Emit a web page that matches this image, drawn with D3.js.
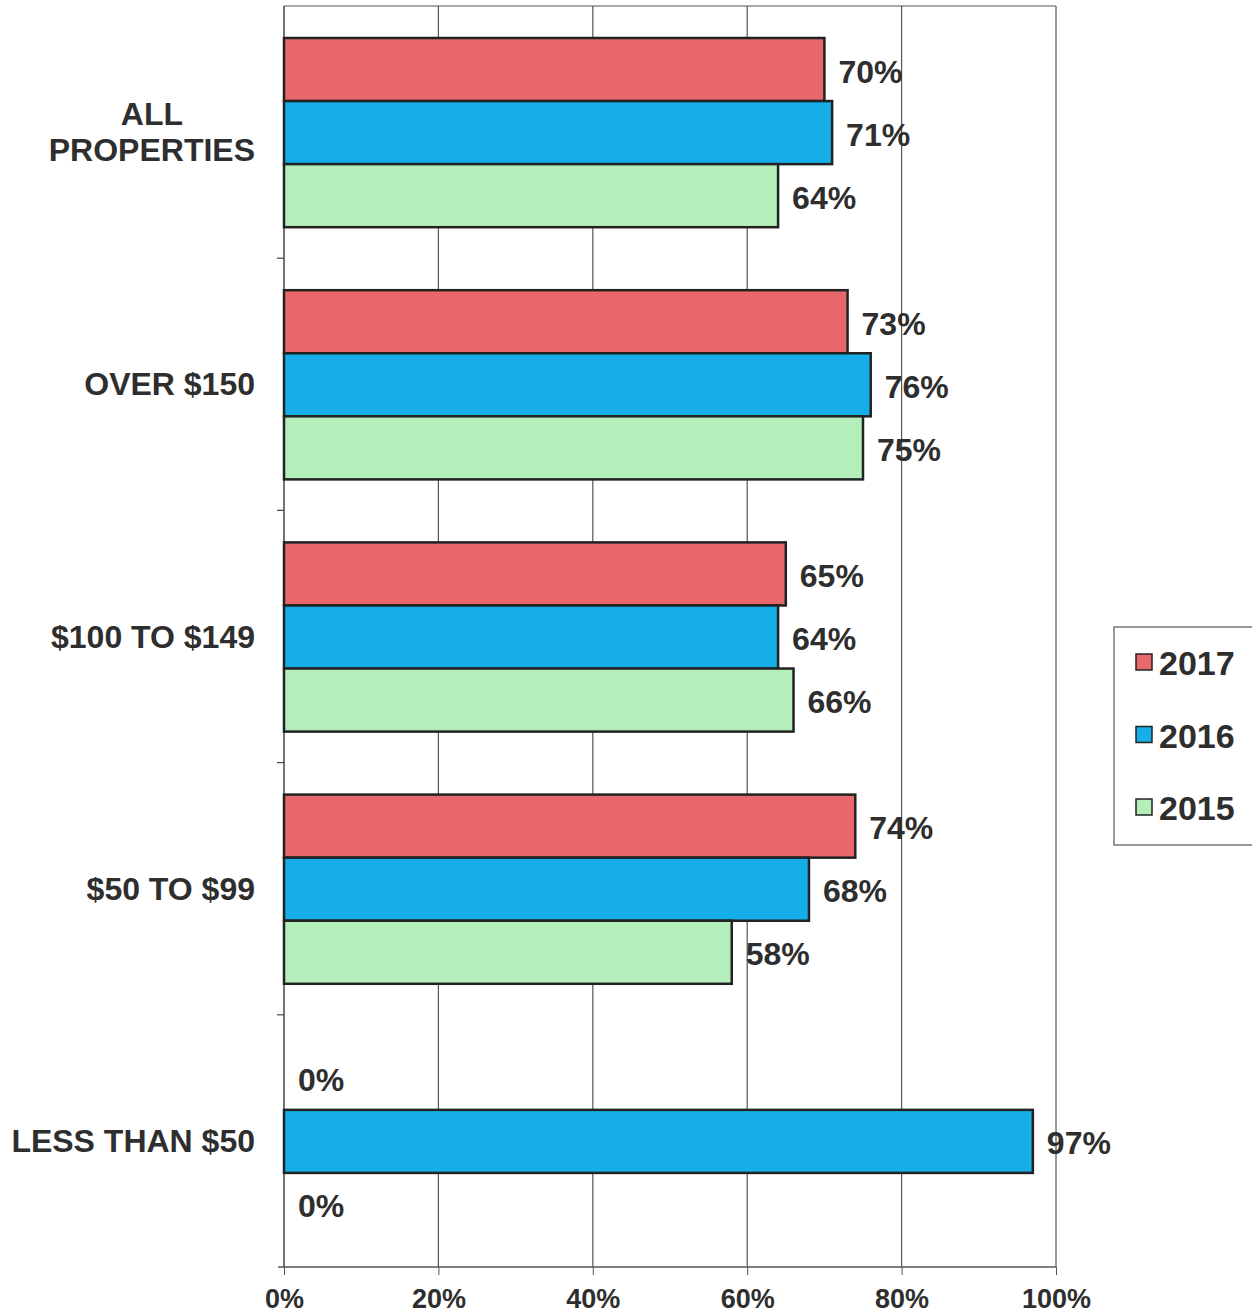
<!DOCTYPE html>
<html>
<head>
<meta charset="utf-8">
<script src="https://cdn.jsdelivr.net/npm/d3@7"></script>
<style>
  body { margin: 0; background: #fff; }
  svg text { font-family: "Liberation Sans", Arial, sans-serif; font-weight: bold; fill: #2e2e2e; }
</style>
</head>
<body>
<div id="chart"></div>
<script>
// ---- data ----
const CATEGORIES = ["ALL PROPERTIES", "OVER $150", "$100 TO $149", "$50 TO $99", "LESS THAN $50"];
const SERIES = ["2017", "2016", "2015"];
const VALUES_2017 = [70, 73, 65, 74, 0];
const VALUES_2016 = [71, 76, 64, 68, 97];
const VALUES_2015 = [64, 75, 66, 58, 0];
const X_TICKS = [0, 20, 40, 60, 80, 100];

const COLORS = { "2017": "#e8676a", "2016": "#16aee9", "2015": "#b4efbb" };

const rows = CATEGORIES.map((c, i) => ({
  cat: c,
  vals: [
    { s: "2017", v: VALUES_2017[i] },
    { s: "2016", v: VALUES_2016[i] },
    { s: "2015", v: VALUES_2015[i] }
  ]
}));

const W = 1252, H = 1315;
const margin = { top: 6, left: 284, right: 196, bottom: 48 };
const plotW = W - margin.left - margin.right;
const plotH = H - margin.top - margin.bottom;

const svg = d3.select("#chart").append("svg")
  .attr("width", W)
  .attr("height", H);

const g = svg.append("g")
  .attr("transform", `translate(${margin.left},${margin.top})`);

const x = d3.scaleLinear().domain([0, 100]).range([0, plotW]);
const y = d3.scaleBand().domain(CATEGORIES).range([0, plotH]);
const inner = d3.scaleBand().domain(SERIES)
  .range([32, y.bandwidth() - 31]);

// gridlines + frame
g.selectAll("line.grid")
  .data(X_TICKS.slice(1))
  .enter().append("line")
  .attr("class", "grid")
  .attr("x1", d => x(d)).attr("x2", d => x(d))
  .attr("y1", 0).attr("y2", plotH)
  .attr("stroke", "#555").attr("stroke-width", 1.2);

g.append("line")
  .attr("x1", 0).attr("x2", plotW)
  .attr("y1", 0).attr("y2", 0)
  .attr("stroke", "#555").attr("stroke-width", 1.2);

// x axis
const xAxis = g.append("g")
  .attr("transform", `translate(0,${plotH})`)
  .call(d3.axisBottom(x).tickValues(X_TICKS).tickFormat(d => d + "%")
    .tickSize(8).tickPadding(14).tickSizeOuter(0));
xAxis.select(".domain").attr("stroke", "#555").attr("stroke-width", 1.5)
  .attr("d", `M-6,0H${plotW}`);
xAxis.selectAll(".tick line").attr("stroke", "#555");
xAxis.selectAll("text").attr("font-size", 27).attr("fill", "#2e2e2e");

// y axis line + ticks between categories
g.append("line")
  .attr("x1", 0).attr("x2", 0)
  .attr("y1", 0).attr("y2", plotH)
  .attr("stroke", "#444").attr("stroke-width", 1.5);

g.selectAll("line.ytick")
  .data(CATEGORIES.slice(1))
  .enter().append("line")
  .attr("class", "ytick")
  .attr("x1", -7).attr("x2", 0)
  .attr("y1", d => y(d)).attr("y2", d => y(d))
  .attr("stroke", "#444").attr("stroke-width", 1.2);

// bars
const groups = g.selectAll("g.cat")
  .data(rows)
  .enter().append("g")
  .attr("class", "cat")
  .attr("transform", d => `translate(0,${y(d.cat)})`);

groups.selectAll("rect")
  .data(d => d.vals.filter(v => v.v > 0))
  .enter().append("rect")
  .attr("x", 0)
  .attr("y", d => inner(d.s))
  .attr("width", d => x(d.v))
  .attr("height", inner.bandwidth())
  .attr("fill", d => COLORS[d.s])
  .attr("stroke", "#222")
  .attr("stroke-width", 2.5);

groups.selectAll("text.val")
  .data(d => d.vals)
  .enter().append("text")
  .attr("class", "val")
  .attr("x", d => x(d.v) + 14)
  .attr("y", d => inner(d.s) + inner.bandwidth() / 2 + 2)
  .attr("dominant-baseline", "central")
  .attr("font-size", 32)
  .text(d => d.v + "%");

// category labels
const labelRight = -29;
rows.forEach(r => {
  const lines = r.cat === "ALL PROPERTIES" ? ["ALL", "PROPERTIES"] : [r.cat];
  const cy = y(r.cat) + y.bandwidth() / 2;
  const t = g.append("text")
    .attr("font-size", 32)
    .attr("dominant-baseline", "central");
  const spans = lines.map((l, i) => t.append("tspan")
    .attr("y", cy + (i - (lines.length - 1) / 2) * 36)
    .text(l));
  const maxW = d3.max(spans, s => s.node().getComputedTextLength());
  spans.forEach(s => s.attr("x", labelRight - maxW / 2).attr("text-anchor", "middle"));
});

// legend
const legend = svg.append("g").attr("transform", "translate(1114,627)");
legend.append("rect")
  .attr("x", 0).attr("y", 0)
  .attr("width", 160).attr("height", 218)
  .attr("fill", "#fff")
  .attr("stroke", "#555").attr("stroke-width", 1.2);

SERIES.forEach((s, i) => {
  const cy = 35 + i * 72.5;
  legend.append("rect")
    .attr("x", 22).attr("y", cy - 8)
    .attr("width", 16).attr("height", 16)
    .attr("fill", COLORS[s])
    .attr("stroke", "#222").attr("stroke-width", 1.5);
  legend.append("text")
    .attr("x", 45).attr("y", cy + 1)
    .attr("dominant-baseline", "central")
    .attr("font-size", 34)
    .text(s);
});
</script>
</body>
</html>
